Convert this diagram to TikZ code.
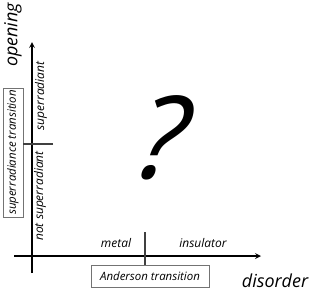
\documentclass[tikz,border=0pt]{standalone}
\usepackage{fontspec}
\setmainfont{Open Sans}
\usepackage{tikz}
\usetikzlibrary{arrows, positioning, calc}
\tikzstyle{axis} = [line width=1.6pt, ->, >=stealth]
\tikzstyle{tick} = [line width=1.3pt, draw=black!75]
\tikzstyle{trans} = [rectangle, draw=black!55, line width=0.8pt, inner sep=1pt, text centered, font=\fontsize{11.5}{12}\selectfont\itshape]
\tikzstyle{phase} = [font=\fontsize{12}{13}\selectfont\itshape]
\tikzstyle{axlabel} = [font=\fontsize{18}{19}\selectfont\itshape]

\begin{document}
\begin{tikzpicture}[x=1bp, y=-1bp]
  \useasboundingbox (0,0) rectangle (317,292);

  \coordinate (xstart) at (14,256);
  \coordinate (xend) at (261,256);
  \coordinate (ystart) at (32,273);
  \coordinate (yend) at (32,42);
  \draw[axis] (xstart) -- (xend);
  \draw[axis] (ystart) -- (yend);

  \node (disorder) [axlabel] at (275,281) {disorder};
  \node (opening) [axlabel, rotate=90] at (13,35) {opening};

  \node (anderson) [trans, minimum width=118bp, minimum height=22bp] at (150,276) {Anderson transition};
  \coordinate (atick) at (145,232);
  \draw[tick] (atick) -- (atick |- anderson.north);
  \node (metal) [phase] at (116,243) {metal};
  \node (insulator) [phase] at (203,243) {insulator};

  \node (superbox) [trans, rotate=90, minimum width=129bp, minimum height=20bp] at (13,152.5) {superradiance transition};
  \coordinate (stick) at (53,144);
  \draw[tick] (stick) -- (superbox.south |- stick);
  \node (super) [phase, rotate=90] at (41,96) {superradiant};
  \node (notsuper) [phase, rotate=90] at (40,196) {not superradiant};

  \node (quest) [xslant=0.15] at (163,138) {\fontsize{115}{115}\selectfont\itshape ?};
\end{tikzpicture}
\end{document}
